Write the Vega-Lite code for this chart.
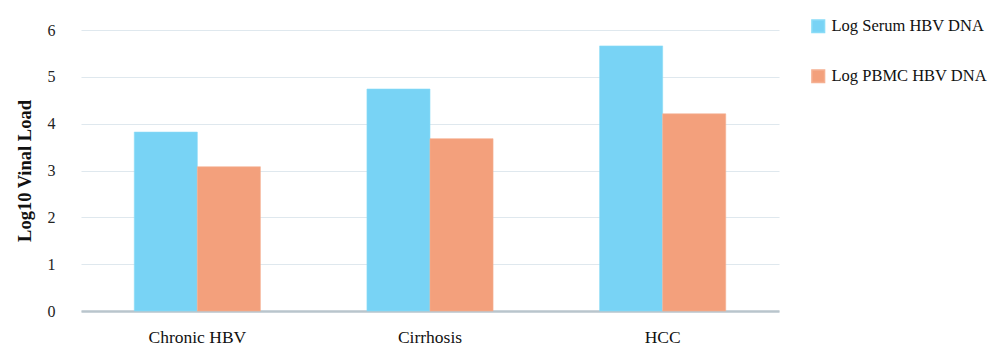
{
  "$schema": "https://vega.github.io/schema/vega-lite/v6.json",
  "width": 698,
  "height": 281,
  "autosize": {"type": "none"},
  "padding": {"left": 81, "top": 30, "right": 221, "bottom": 46},
  "background": "white",
  "data": {
    "values": [
      {"group": "Chronic HBV", "series": "Log Serum HBV DNA", "value": 3.82},
      {"group": "Chronic HBV", "series": "Log PBMC HBV DNA", "value": 3.08},
      {"group": "Cirrhosis", "series": "Log Serum HBV DNA", "value": 4.74},
      {"group": "Cirrhosis", "series": "Log PBMC HBV DNA", "value": 3.68},
      {"group": "HCC", "series": "Log Serum HBV DNA", "value": 5.66},
      {"group": "HCC", "series": "Log PBMC HBV DNA", "value": 4.21}
    ]
  },
  "config": {
    "font": "Liberation Serif",
    "view": {"stroke": null}
  },
  "mark": {"type": "bar", "strokeWidth": 1, "strokeOpacity": 0.6},
  "encoding": {
    "x": {
      "field": "group",
      "type": "nominal",
      "sort": null,
      "scale": {"paddingInner": 0.458, "paddingOuter": 0.229},
      "axis": {
        "title": null,
        "labelAngle": 0,
        "labelFontSize": 17.5,
        "labelColor": "#111",
        "labelPadding": 17,
        "ticks": false,
        "domainColor": "#b9c5cc",
        "domainWidth": 2.5,
        "grid": false
      }
    },
    "xOffset": {"field": "series", "type": "nominal", "sort": ["Log Serum HBV DNA", "Log PBMC HBV DNA"], "scale": {"paddingInner": 0, "paddingOuter": 0}},
    "y": {
      "field": "value",
      "type": "quantitative",
      "scale": {"domain": [0, 6], "nice": false},
      "axis": {
        "title": "Log10 Vinal Load",
        "titleFontSize": 18.5,
        "titleFontWeight": "bold",
        "titleColor": "#111",
        "titlePadding": 13,
        "values": [0, 1, 2, 3, 4, 5, 6],
        "labelFontSize": 16,
        "labelColor": "#222",
        "labelPadding": 26,
        "ticks": false,
        "domain": false,
        "gridColor": "#dfe8ee",
        "gridWidth": 1.2
      }
    },
    "color": {
      "field": "series",
      "type": "nominal",
      "sort": ["Log Serum HBV DNA", "Log PBMC HBV DNA"],
      "scale": {"domain": ["Log Serum HBV DNA", "Log PBMC HBV DNA"], "range": ["#78d3f5", "#f3a07c"]},
      "legend": {
        "title": null,
        "orient": "none",
        "legendX": 729,
        "legendY": -12,
        "symbolType": "square",
        "symbolSize": 160,
        "labelFontSize": 16.5,
        "labelColor": "#111",
        "labelOffset": 5,
        "rowPadding": 30
      }
    },
    "stroke": {
      "field": "series",
      "type": "nominal",
      "scale": {"domain": ["Log Serum HBV DNA", "Log PBMC HBV DNA"], "range": ["#8adcf7", "#f5b092"]},
      "legend": null
    }
  }
}
